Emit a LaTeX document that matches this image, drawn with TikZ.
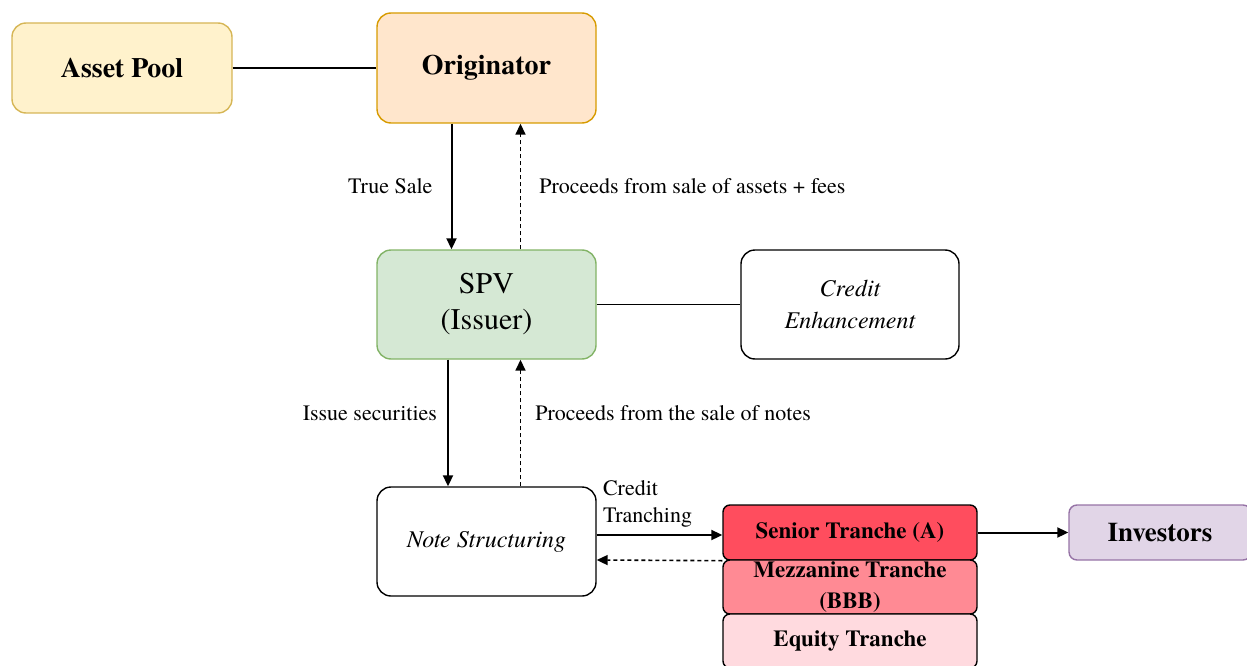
\documentclass[tikz,border=0pt]{standalone}
\usepackage{fontspec}
\setmainfont{TeX Gyre Termes}
\usepackage{xcolor}
\usepackage{tikz}
\usetikzlibrary{positioning, calc, arrows.meta}
\tikzset{
	box/.style={draw, rounded corners=14pt, line width=1.4pt, minimum width=219pt, minimum height=109pt, align=center, inner sep=2pt},
	tranche/.style={draw=black, rounded corners=7pt, line width=1.4pt, minimum width=254pt, align=center, inner sep=1pt, font=\bfseries\fontsize{23}{31}\selectfont},
	lbl/.style={inner sep=0pt, font=\fontsize{22}{27}\selectfont, align=left},
	flow/.style={-{Triangle[length=11pt, width=10pt]}, line width=2pt},
	back/.style={-{Triangle[length=11pt, width=10pt]}, line width=1.6pt, dash pattern=on 4pt off 3pt},
}
\definecolor{PoolFill}{RGB}{255, 242, 204}
\definecolor{PoolLine}{RGB}{214, 182, 86}
\definecolor{OrigFill}{RGB}{255, 230, 204}
\definecolor{OrigLine}{RGB}{215, 155, 0}
\definecolor{SpvFill}{RGB}{213, 232, 212}
\definecolor{SpvLine}{RGB}{130, 179, 102}
\definecolor{SeniorRed}{RGB}{255, 77, 94}
\definecolor{MezzRed}{RGB}{255, 138, 148}
\definecolor{EquityPink}{RGB}{255, 218, 223}
\definecolor{InvFill}{RGB}{225, 213, 231}
\definecolor{InvLine}{RGB}{150, 115, 166}
\newcommand{\bigbf}{\bfseries\fontsize{28}{34}\selectfont}

\begin{document}
\begin{tikzpicture}[x=1pt, y=-1pt]
	\useasboundingbox (0,0) rectangle (1247,666);

	% top row
	\node[box, fill=PoolFill, draw=PoolLine, minimum width=220pt, minimum height=90pt, font=\bigbf] (pool) at (122,68) {Asset Pool};
	\node[box, fill=OrigFill, draw=OrigLine, minimum height=110pt, font=\bigbf] (orig) at (486.5,68) {Originator};

	% issuer row
	\node[box, fill=SpvFill, draw=SpvLine, font=\fontsize{30}{36}\selectfont] (spv) at (486.5,304.5) {SPV\\(Issuer)};
	\node[box, draw=black, minimum width=218pt, font=\itshape\fontsize{24}{32}\selectfont] (enh) at (850,304.5) {Credit\\Enhancement};

	% notes and tranches
	\node[box, draw=black, font=\itshape\fontsize{24}{29}\selectfont] (notes) at (486.5,541.5) {Note Structuring};
	\node[tranche, fill=SeniorRed, minimum height=55pt] (senior) at (850,532.5) {Senior Tranche (A)};
	\node[tranche, fill=MezzRed, minimum height=54pt] (mezz) at (850,587) {Mezzanine Tranche\\(BBB)};
	\node[tranche, fill=EquityPink, minimum height=54pt] (equity) at (850,641) {Equity Tranche};
	\node[box, fill=InvFill, draw=InvLine, rounded corners=8pt, minimum width=182pt, minimum height=55pt, font=\bfseries\fontsize{27}{32}\selectfont] (inv) at (1160,532.5) {Investors};

	% connectors
	\draw[line width=1.6pt] (pool.east) -- (orig.west);
	\draw[line width=1.6pt] (spv.east) -- (enh.west);

	\draw[flow] ([xshift=-35pt]orig.south) -- ([xshift=-35pt]spv.north)
		node[lbl, midway, left=18pt] {True Sale};
	\draw[back] ([xshift=34pt]spv.north) -- ([xshift=34pt]orig.south)
		node[lbl, midway, right=18pt] {Proceeds from sale of assets + fees};

	\draw[flow] ([xshift=-38.5pt]spv.south) -- ([xshift=-38.5pt]notes.north)
		node[lbl, pos=0.42, left=10pt] {Issue securities};
	\draw[back] ([xshift=34pt]notes.north) -- ([xshift=34pt]spv.south)
		node[lbl, pos=0.58, right=14pt] {Proceeds from the sale of notes};

	\draw[flow] ([yshift=6.5pt]notes.east) -- ([yshift=-2.5pt]senior.west)
		node[lbl, midway, above=7pt, xshift=-12pt] {Credit\\Tranching};
	\draw[back] (senior.south west) -- ([yshift=-18.5pt]notes.east);

	\draw[flow] (senior.east) -- (inv.west);
\end{tikzpicture}
\end{document}
